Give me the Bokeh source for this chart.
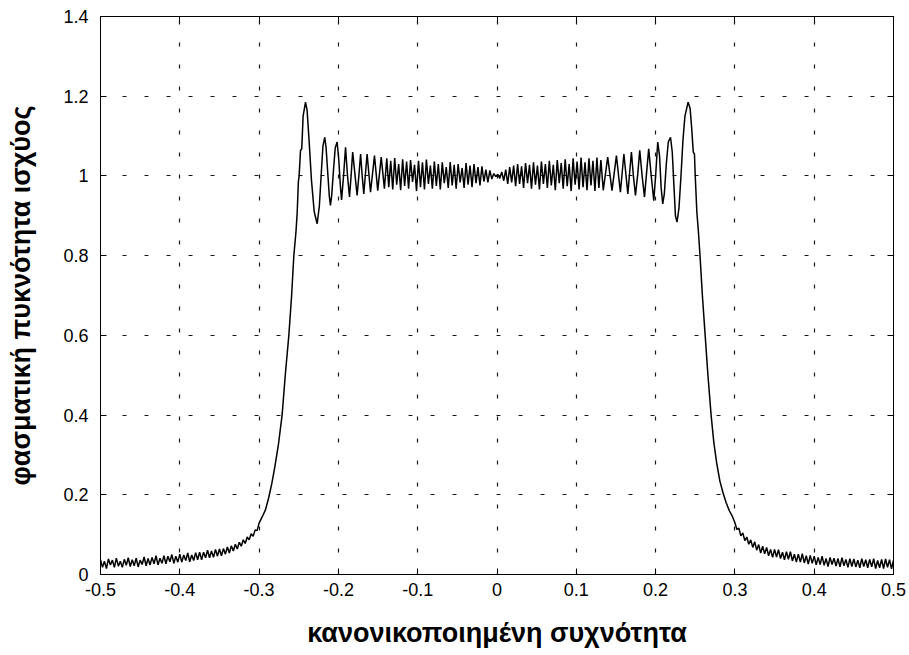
from bokeh.plotting import figure
from bokeh.models import Range1d, FixedTicker, LinearAxis, ColumnDataSource
from bokeh.embed import file_html
from bokeh.resources import INLINE

# ---------------- data ----------------
x_ticks = [-0.5, -0.4, -0.3, -0.2, -0.1, 0, 0.1, 0.2, 0.3, 0.4, 0.5]
x_tick_labels = ["-0.5", "-0.4", "-0.3", "-0.2", "-0.1", "0", "0.1", "0.2", "0.3", "0.4", "0.5"]
y_ticks = [0, 0.2, 0.4, 0.6, 0.8, 1, 1.2, 1.4]
y_tick_labels = ["0", "0.2", "0.4", "0.6", "0.8", "1", "1.2", "1.4"]

x_title = "κανονικοποιημένη συχνότητα"
y_title = "φασματική πυκνότητα ισχύος"

# left tail (noisy floor)
tail_left_f = [-0.5000, -0.4975, -0.4950, -0.4925, -0.4900, -0.4875, -0.4850, -0.4825, -0.4800, -0.4775,
               -0.4750, -0.4725, -0.4700, -0.4675, -0.4650, -0.4625, -0.4600, -0.4575, -0.4550, -0.4525,
               -0.4500, -0.4475, -0.4450, -0.4425, -0.4400, -0.4375, -0.4350, -0.4325, -0.4300, -0.4275,
               -0.4250, -0.4225, -0.4200, -0.4175, -0.4150, -0.4125, -0.4100, -0.4075, -0.4050, -0.4025,
               -0.4000, -0.3975, -0.3950, -0.3925, -0.3900, -0.3875, -0.3850, -0.3825, -0.3800, -0.3775,
               -0.3750, -0.3725, -0.3700, -0.3675, -0.3650, -0.3625, -0.3600, -0.3575, -0.3550, -0.3525,
               -0.3500, -0.3475, -0.3450, -0.3425, -0.3400, -0.3375, -0.3350, -0.3325, -0.3300, -0.3275,
               -0.3250, -0.3225, -0.3200, -0.3175, -0.3150, -0.3125, -0.3100, -0.3075, -0.3050, -0.3025,
               -0.3000]
tail_left_p = [0.037, 0.018, 0.033, 0.015, 0.039, 0.024, 0.036, 0.018, 0.041, 0.021,
               0.033, 0.018, 0.038, 0.023, 0.042, 0.020, 0.037, 0.022, 0.041, 0.019,
               0.036, 0.025, 0.044, 0.022, 0.040, 0.024, 0.043, 0.027, 0.047, 0.024,
               0.041, 0.028, 0.047, 0.027, 0.046, 0.032, 0.050, 0.028, 0.046, 0.031,
               0.051, 0.031, 0.049, 0.035, 0.054, 0.032, 0.049, 0.035, 0.055, 0.037,
               0.056, 0.037, 0.056, 0.042, 0.061, 0.042, 0.059, 0.043, 0.063, 0.046,
               0.064, 0.047, 0.065, 0.051, 0.069, 0.054, 0.072, 0.059, 0.076, 0.064,
               0.081, 0.071, 0.087, 0.078, 0.094, 0.087, 0.102, 0.096, 0.112, 0.110,
               0.129]

# left rising edge
rise_left_f = [-0.296, -0.292, -0.288, -0.284, -0.280, -0.2755, -0.271, -0.267, -0.2625, -0.259,
               -0.2562, -0.2535, -0.252, -0.2505, -0.2495, -0.2478, -0.2462, -0.2445, -0.2415]
rise_left_p = [0.145, 0.162, 0.192, 0.228, 0.272, 0.328, 0.400, 0.500, 0.600, 0.700,
               0.800, 0.860, 0.906, 0.985, 1.000, 1.064, 1.068, 1.150, 1.185]

# left ripples
ripple_left_f = [-0.2395, -0.2370, -0.2340, -0.2305, -0.2268, -0.2240, -0.2215, -0.2195, -0.2172, -0.2155,
                 -0.2130, -0.2115, -0.2100, -0.2085, -0.2060, -0.2040, -0.2016, -0.1995, -0.1975, -0.1960,
                 -0.1935, -0.1910, -0.1885, -0.1860, -0.1840, -0.1820, -0.1792, -0.1764, -0.1742, -0.1720,
                 -0.1700, -0.1680, -0.1638, -0.1595, -0.1545, -0.1504, -0.1460, -0.1420]
ripple_left_p = [1.165, 1.090, 0.990, 0.910, 0.880, 0.925, 1.010, 1.075, 1.097, 1.070,
                 0.995, 0.950, 0.926, 0.950, 1.020, 1.070, 1.085, 1.040, 0.975, 0.940,
                 1.000, 1.072, 1.000, 0.947, 1.000, 1.060, 1.005, 0.951, 1.000, 1.055,
                 1.000, 0.955, 1.055, 0.959, 1.051, 0.963, 1.047, 0.968]

# dense band around the centre
band_f = [-0.1390, -0.1365, -0.1340, -0.1315, -0.1290, -0.1265, -0.1240, -0.1215, -0.1190, -0.1165,
          -0.1140, -0.1115, -0.1090, -0.1065, -0.1040, -0.1015, -0.0990, -0.0965, -0.0940, -0.0915,
          -0.0890, -0.0865, -0.0840, -0.0815, -0.0790, -0.0765, -0.0740, -0.0715, -0.0690, -0.0665,
          -0.0640, -0.0615, -0.0590, -0.0565, -0.0540, -0.0515, -0.0490, -0.0465, -0.0440, -0.0415,
          -0.0390, -0.0365, -0.0340, -0.0315, -0.0290, -0.0265, -0.0240, -0.0215, -0.0190, -0.0165,
          -0.0140, -0.0115, -0.0090, -0.0065, -0.0040, -0.0015, 0.0010, 0.0035, 0.0060, 0.0085,
          0.0110, 0.0135, 0.0160, 0.0185, 0.0210, 0.0235, 0.0260, 0.0285, 0.0310, 0.0335,
          0.0360, 0.0385, 0.0410, 0.0435, 0.0460, 0.0485, 0.0510, 0.0535, 0.0560, 0.0585,
          0.0610, 0.0635, 0.0660, 0.0685, 0.0710, 0.0735, 0.0760, 0.0785, 0.0810, 0.0835,
          0.0860, 0.0885, 0.0910, 0.0935, 0.0960, 0.0985, 0.1010, 0.1035, 0.1060, 0.1085,
          0.1110, 0.1135, 0.1160, 0.1185, 0.1210, 0.1235, 0.1260, 0.1285, 0.1310, 0.1340]
band_p = [1.044, 0.972, 1.038, 0.966, 1.045, 0.978, 1.030, 0.964, 1.042, 0.975,
          1.036, 0.968, 1.040, 0.985, 1.028, 0.962, 1.038, 0.972, 1.034, 0.966,
          1.041, 0.980, 1.026, 0.968, 1.036, 0.975, 1.030, 0.966, 1.034, 0.982,
          1.022, 0.970, 1.035, 0.976, 1.028, 0.968, 1.030, 0.984, 1.020, 0.970,
          1.032, 0.978, 1.026, 0.972, 1.030, 0.982, 1.022, 0.976, 1.024, 0.986,
          1.016, 0.984, 1.014, 0.992, 1.006, 0.998, 1.004, 0.994, 1.010, 0.988,
          1.016, 0.980, 1.022, 0.984, 1.026, 0.974, 1.030, 0.980, 1.024, 0.970,
          1.032, 0.982, 1.028, 0.968, 1.034, 0.978, 1.026, 0.966, 1.036, 0.980,
          1.030, 0.970, 1.038, 0.976, 1.028, 0.964, 1.040, 0.982, 1.032, 0.968,
          1.042, 0.974, 1.030, 0.962, 1.044, 0.978, 1.036, 0.966, 1.046, 0.972,
          1.034, 0.964, 1.044, 0.976, 1.038, 0.962, 1.046, 0.970, 1.040, 0.964]

# right ripples
ripple_right_f = [0.1396, 0.1450, 0.1506, 0.1556, 0.1600, 0.1650, 0.1695, 0.1720, 0.1746, 0.1775,
                  0.1800, 0.1830, 0.1860, 0.1885, 0.1913, 0.1945, 0.1977, 0.2000, 0.2027, 0.2050,
                  0.2070, 0.2090, 0.2110, 0.2135, 0.2160, 0.2188, 0.2210, 0.2235, 0.2250, 0.2270,
                  0.2295, 0.2320, 0.2345, 0.2370, 0.2410]
ripple_right_p = [1.047, 0.963, 1.051, 0.959, 1.055, 0.955, 1.060, 1.000, 0.951, 1.005,
                  1.064, 1.000, 0.947, 1.005, 1.068, 1.000, 0.938, 1.000, 1.085, 1.050,
                  0.970, 0.930, 0.955, 1.030, 1.085, 1.097, 1.060, 0.960, 0.900, 0.884,
                  0.920, 1.000, 1.090, 1.150, 1.185]

# right falling edge
fall_right_f = [0.2435, 0.2455, 0.2475, 0.2490, 0.2500, 0.2520, 0.2540, 0.2560, 0.2590, 0.2625,
                0.2660, 0.2700, 0.2735, 0.2770, 0.2810, 0.2850, 0.2890, 0.2930, 0.2970]
fall_right_p = [1.170, 1.120, 1.060, 1.055, 1.000, 0.910, 0.860, 0.800, 0.700, 0.600,
                0.500, 0.400, 0.330, 0.280, 0.235, 0.205, 0.180, 0.160, 0.145]

# right tail (noisy floor)
tail_right_f = [0.3000, 0.3025, 0.3050, 0.3075, 0.3100, 0.3125, 0.3150, 0.3175, 0.3200, 0.3225,
                0.3250, 0.3275, 0.3300, 0.3325, 0.3350, 0.3375, 0.3400, 0.3425, 0.3450, 0.3475,
                0.3500, 0.3525, 0.3550, 0.3575, 0.3600, 0.3625, 0.3650, 0.3675, 0.3700, 0.3725,
                0.3750, 0.3775, 0.3800, 0.3825, 0.3850, 0.3875, 0.3900, 0.3925, 0.3950, 0.3975,
                0.4000, 0.4025, 0.4050, 0.4075, 0.4100, 0.4125, 0.4150, 0.4175, 0.4200, 0.4225,
                0.4250, 0.4275, 0.4300, 0.4325, 0.4350, 0.4375, 0.4400, 0.4425, 0.4450, 0.4475,
                0.4500, 0.4525, 0.4550, 0.4575, 0.4600, 0.4625, 0.4650, 0.4675, 0.4700, 0.4725,
                0.4750, 0.4775, 0.4800, 0.4825, 0.4850, 0.4875, 0.4900, 0.4925, 0.4950, 0.4975,
                0.5000]
tail_right_p = [0.130, 0.113, 0.116, 0.097, 0.104, 0.085, 0.094, 0.076, 0.087, 0.068,
                0.082, 0.061, 0.075, 0.054, 0.071, 0.052, 0.068, 0.047, 0.063, 0.043,
                0.063, 0.044, 0.062, 0.040, 0.056, 0.037, 0.057, 0.038, 0.057, 0.034,
                0.051, 0.031, 0.051, 0.031, 0.052, 0.029, 0.047, 0.026, 0.048, 0.028,
                0.046, 0.024, 0.043, 0.025, 0.046, 0.023, 0.040, 0.020, 0.043, 0.025,
                0.041, 0.021, 0.040, 0.019, 0.042, 0.022, 0.038, 0.018, 0.040, 0.020,
                0.039, 0.019, 0.036, 0.017, 0.040, 0.020, 0.037, 0.017, 0.038, 0.019,
                0.040, 0.015, 0.035, 0.017, 0.038, 0.015, 0.039, 0.018, 0.037, 0.014,
                0.036]

freq = (tail_left_f + rise_left_f + ripple_left_f + band_f +
        ripple_right_f + fall_right_f + tail_right_f)
psd = (tail_left_p + rise_left_p + ripple_left_p + band_p +
       ripple_right_p + fall_right_p + tail_right_p)

# ---------------- figure ----------------
FONT = "Liberation Sans"

p = figure(width=909, height=655, output_backend="svg", toolbar_location=None,
           x_range=Range1d(-0.5, 0.5), y_range=Range1d(0, 1.4),
           min_border_left=100, min_border_right=16, min_border_top=16, min_border_bottom=81,
           background_fill_color="white", border_fill_color="white")
p.outline_line_color = "black"
p.outline_line_width = 1

src = ColumnDataSource(data=dict(f=freq, s=psd))
p.line("f", "s", source=src, line_color="black", line_width=1.5)

x_over = {t: l for t, l in zip(x_ticks, x_tick_labels)}
y_over = {t: l for t, l in zip(y_ticks, y_tick_labels)}

for ax, ticks, over in ((p.xaxis[0], x_ticks, x_over), (p.yaxis[0], y_ticks, y_over)):
    ax.ticker = FixedTicker(ticks=ticks)
    ax.major_label_overrides = over
    ax.major_tick_in = 6
    ax.major_tick_out = 0
    ax.minor_tick_line_color = None
    ax.axis_line_color = "black"
    ax.major_tick_line_color = "black"
    ax.major_label_text_font = FONT
    ax.major_label_text_font_size = "18px"
    ax.major_label_text_color = "black"
    ax.axis_label_text_font = FONT
    ax.axis_label_text_font_size = "27px"
    ax.axis_label_text_font_style = "bold"
    ax.axis_label_text_color = "black"

p.xaxis[0].axis_label = x_title
p.xaxis[0].major_label_standoff = 8
p.xaxis[0].axis_label_standoff = 19
p.yaxis[0].axis_label = y_title
p.yaxis[0].major_label_standoff = 12
p.yaxis[0].axis_label_standoff = 24

# mirrored tick marks on top and right (MATLAB box)
top_ax = LinearAxis(ticker=FixedTicker(ticks=x_ticks),
                    major_label_overrides={t: "" for t in x_ticks})
right_ax = LinearAxis(ticker=FixedTicker(ticks=y_ticks),
                      major_label_overrides={t: "" for t in y_ticks})
for ax in (top_ax, right_ax):
    ax.major_tick_in = 6
    ax.major_tick_out = 0
    ax.minor_tick_line_color = None
    ax.major_label_standoff = 0
    ax.major_label_text_font_size = "1px"
    ax.axis_line_color = "black"
p.add_layout(top_ax, "above")
p.add_layout(right_ax, "right")

# dotted grid
p.xgrid.ticker = FixedTicker(ticks=x_ticks)
p.ygrid.ticker = FixedTicker(ticks=y_ticks)
for g in (p.xgrid[0], p.ygrid[0]):
    g.grid_line_color = "black"
    g.grid_line_width = 1.2
    g.grid_line_dash = "4 18"
    g.grid_line_alpha = 0.9

open("out.html", "w").write(file_html(p, INLINE))
